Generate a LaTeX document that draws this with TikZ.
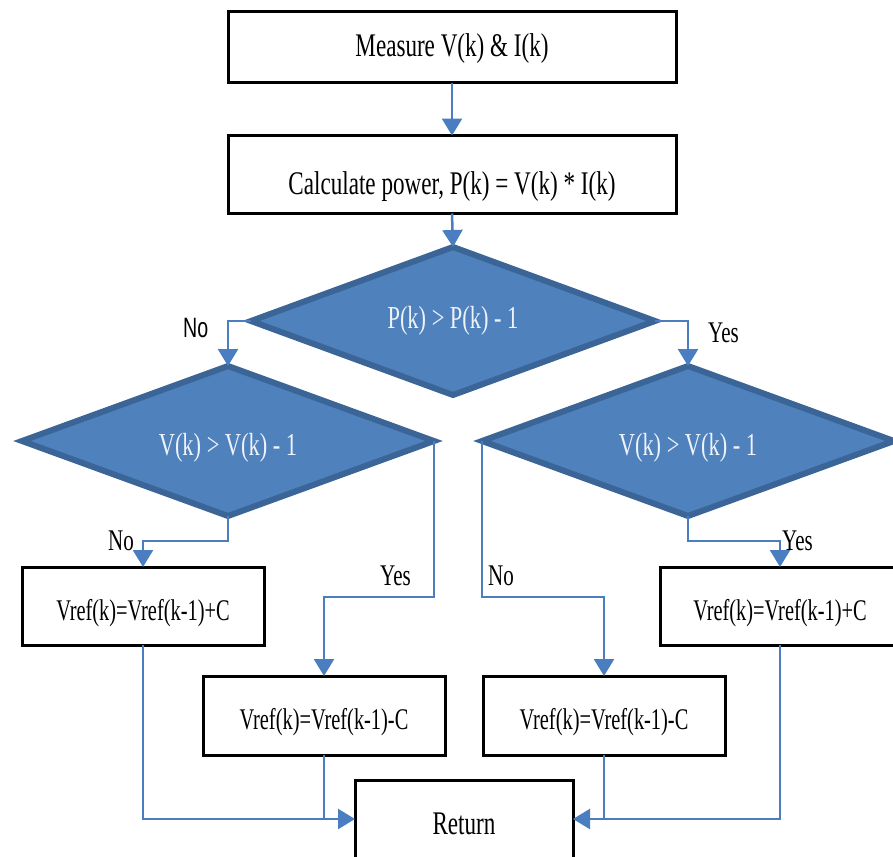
\documentclass[tikz,border=0pt]{standalone}
\usepackage{fontspec}
\setmainfont{Liberation Serif}[FakeStretch=0.70]
\newfontfamily\narrowserif{Liberation Serif}[FakeStretch=0.68]
\newfontfamily\labsans{Liberation Sans}[FakeStretch=0.70]
\usetikzlibrary{shapes.geometric,arrows.meta}
\definecolor{connblue}{RGB}{74,126,193}
\definecolor{dfill}{RGB}{79,129,189}
\definecolor{dborder}{RGB}{59,100,151}
\definecolor{dtext}{RGB}{238,242,250}
\tikzset{
  procbox/.style={draw=black, line width=3pt, fill=white, inner sep=0pt, outer sep=0pt,
    text depth=0pt, font=\fontsize{33}{38}\selectfont},
  vrefbox/.style={procbox, text height=28pt, font=\narrowserif\fontsize{30}{36}\selectfont},
  decision/.style={diamond, draw=dborder, fill=dfill, line width=6pt, inner sep=0pt, outer sep=0pt,
    text=dtext, text depth=0pt, font=\fontsize{32}{38}\selectfont},
  conn/.style={draw=connblue, line width=2.5pt},
  arr/.style={conn, -{Triangle[width=20pt,length=17pt]}},
  lab/.style={font=\fontsize{30}{36}\selectfont, inner sep=0pt, anchor=base west},
}
\begin{document}
\begin{tikzpicture}[x=1pt,y=-1pt]
\useasboundingbox (0,0) rectangle (893,856);
\coordinate (yA) at (0,541);
\coordinate (yB) at (0,597);
% boxes
\node[procbox, text height=19pt, minimum width=448, minimum height=71] (b1) at (452,47.5) {Measure V(k) \& I(k)};
\node[procbox, text height=39pt, minimum width=448, minimum height=78] (b2) at (452,174.5) {Calculate power, P(k) = V(k) * I(k)};
% decisions
\node[decision, text height=14pt, minimum width=404, minimum height=148, shape aspect=2.73] (d1) at (453,321) {P(k) > P(k) - 1};
\node[decision, text height=28pt, minimum width=412, minimum height=150, shape aspect=2.75] (d2) at (228,441) {V(k) > V(k) - 1};
\node[decision, text height=28pt, minimum width=412, minimum height=150, shape aspect=2.75] (d3) at (688,441) {V(k) > V(k) - 1};
% action boxes
\node[vrefbox, minimum width=242, minimum height=78] (b3) at (143,606) {Vref(k)=Vref(k-1)+C};
\node[vrefbox, minimum width=242, minimum height=79] (b4) at (324,715.5) {Vref(k)=Vref(k-1)-C};
\node[vrefbox, minimum width=242, minimum height=79] (b5) at (604,715.5) {Vref(k)=Vref(k-1)-C};
\node[vrefbox, minimum width=240, minimum height=78] (b6) at (780,606) {Vref(k)=Vref(k-1)+C};
\node[procbox, text height=30pt, minimum width=218, minimum height=78] (ret) at (464,819) {Return};
% connectors
\draw[arr] (b1.south) -- (b2.north);
\draw[arr] (b2.south) -- (d1.north);
\draw[arr] (d1.west) -| (d2.north);
\draw[arr] (d1.east) -| (d3.north);
\draw[arr] (d2.south) -- (d2.south |- yA) -| (b3.north);
\draw[arr] (d2.east) -- (d2.east |- yB) -| (b4.north);
\draw[arr] (d3.west) -- (d3.west |- yB) -| (b5.north);
\draw[arr] (d3.south) -- (d3.south |- yA) -| (b6.north);
\draw[arr] (b3.south) |- (ret.west);
\draw[conn] (b4.south) -- (b4.south |- ret.west);
\draw[arr] (b6.south) |- (ret.east);
\draw[conn] (b5.south) -- (b5.south |- ret.east);
% labels
\node[lab, font=\labsans\fontsize{28}{34}\selectfont] (l1) at (183,337) {No};
\node[lab] (l2) at (708,342) {Yes};
\node[lab] (l3) at (108,550) {No};
\node[lab] (l4) at (380,585) {Yes};
\node[lab] (l5) at (488,585) {No};
\node[lab] (l6) at (782,550) {Yes};
\end{tikzpicture}
\end{document}
